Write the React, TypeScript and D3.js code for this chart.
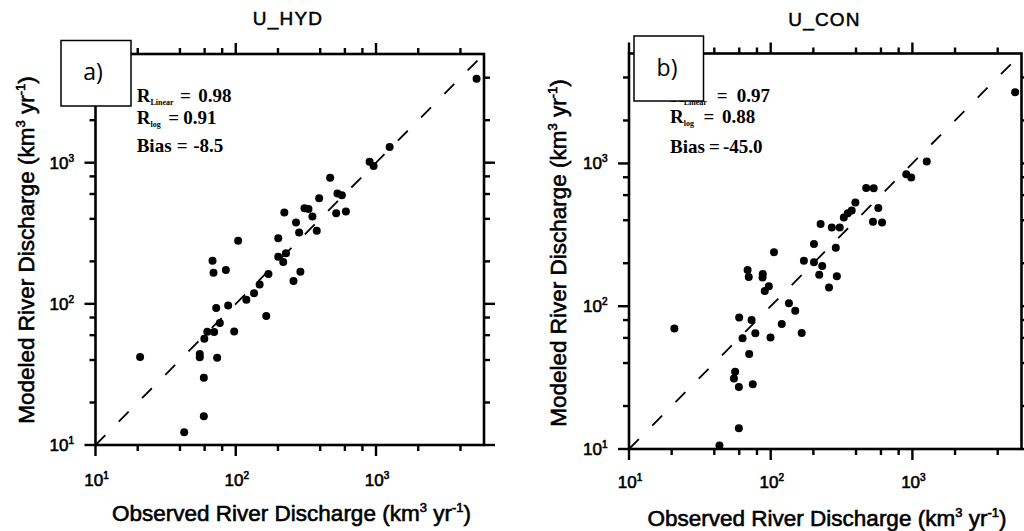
import React from 'react';
import * as d3 from 'd3';

// ---------- data ----------
const DOMAIN: [number, number] = [10, 5888];
const MAJOR_TICKS = [10, 100, 1000];
const MAJOR_EXPONENTS = ['1', '2', '3'];
const MINOR_MULTIPLIERS = [2, 4, 6, 8];

const TITLES = ['U_HYD', 'U_CON'];
const PANEL_LETTERS = ['a)', 'b)'];
const X_TITLE = 'Observed River Discharge (km';
const Y_TITLE = 'Modeled River Discharge (km';

// U_HYD: observed vs modeled discharge (km3/yr)
const HYD_OBS = [222, 269, 283, 104, 201, 68.3, 201, 228, 218, 69.4, 85, 289, 171, 258, 148, 135, 119, 88.3, 72.5, 165, 77, 62.7, 70.1, 97.5, 59.7, 55.4, 55.4, 73.7, 20.8, 59.2, 59.2, 42.9, 5212, 1250, 900, 961, 471, 531, 571, 393, 520, 610, 309, 330, 352, 378];
const HYD_MOD = [443, 377, 320, 280, 291, 202, 216, 228, 198, 166, 174, 169, 163, 145, 137, 119, 107, 97.3, 93.6, 82, 73.2, 63.5, 63.3, 63.6, 56.5, 44.2, 41.8, 41.5, 42.0, 30.0, 16.0, 12.3, 3940, 1290, 1016, 947, 783, 604, 588, 560, 439, 451, 476, 469, 416, 329];

// U_CON: observed vs modeled discharge (km3/yr)
const CON_OBS = [225, 270, 307, 202, 288, 105.5, 171.5, 202, 231, 220, 293, 258, 68.7, 70.0, 87.9, 87.6, 97, 90.8, 134.5, 149, 59.9, 73.3, 119.7, 165.5, 77.9, 63.3, 99.7, 20.9, 70.5, 56.1, 55.0, 59.6, 74.7, 59.6, 43.5, 5309, 1263, 905, 981, 472, 533, 396, 328, 350, 373, 575, 527, 611];
const CON_MOD = [376, 356, 356, 273, 257, 239, 208, 203, 191, 166, 162, 135, 179, 160, 168, 159, 138, 128, 105, 92.9, 83.4, 80.0, 75.1, 65, 64.6, 59.6, 60.4, 69.8, 46.3, 34.7, 31.2, 27.2, 28.4, 14.0, 10.6, 3158, 1033, 841, 798, 674, 670, 533, 418, 447, 469, 488, 391, 386];

const HYD_STAT_LABELS = ['R', 'R', 'Bias'];
const HYD_STAT_SUBS = ['Linear', 'log', ''];
const HYD_STAT_VALUES = ['0.98', '0.91', '-8.5'];
const CON_STAT_LABELS = ['R', 'R', 'Bias'];
const CON_STAT_SUBS = ['Linear', 'log', ''];
const CON_STAT_VALUES = ['0.97', '0.88', '-45.0'];

// ---------- styling ----------
const SANS = '"Liberation Sans", Arial, Helvetica, sans-serif';
const SERIF = '"Liberation Serif", "Times New Roman", serif';
const LETTER_FONT = '"Open Sans", "Liberation Sans", sans-serif';

type Layout = {
  left: number; right: number; top: number; bottom: number;
  box: [number, number, number, number];
  letterPos: [number, number];
  titlePos: [number, number];
  yTitleX: number; yTitleY: number;
  xTitleX: number; xTitleY: number;
  statX: number;
  statEqX: number[];
  statValX: number[];
  statY: number[];
  xLabelDy: number;
};

const LAYOUTS: Layout[] = [
  {
    left: 95.5, right: 484, top: 54, bottom: 445,
    box: [61, 40.5, 70, 65.5],
    letterPos: [93, 80],
    titlePos: [288, 25],
    yTitleX: 33.5, yTitleY: 250,
    xTitleX: 291.5, xTitleY: 521,
    statX: 136.7,
    statEqX: [180, 168.3, 176.7],
    statValX: [198.3, 183.3, 193.3],
    statY: [101.5, 123.5, 152],
    xLabelDy: 41,
  },
  {
    left: 629, right: 1021.5, top: 53.5, bottom: 449,
    box: [634, 36, 69.5, 65],
    letterPos: [667, 76],
    titlePos: [824.5, 25.5],
    yTitleX: 565.5, yTitleY: 253,
    xTitleX: 827, xTitleY: 526,
    statX: 670,
    statEqX: [716.7, 703.5, 709],
    statValX: [736.7, 722, 723],
    statY: [101.5, 123, 153],
    xLabelDy: 39,
  },
];

const MINOR_TICKS = MAJOR_TICKS.flatMap((m) => MINOR_MULTIPLIERS.map((k) => m * k)).filter(
  (v) => v <= DOMAIN[1]
);

function Panel({
  idx, obs, mod, labels, subs, values,
}: {
  idx: number; obs: number[]; mod: number[]; labels: string[]; subs: string[]; values: string[];
}) {
  const L = LAYOUTS[idx];
  const x = d3.scaleLog().domain(DOMAIN).range([L.left, L.right]);
  const y = d3.scaleLog().domain(DOMAIN).range([L.bottom, L.top]);
  const MAJ = 11;
  const MIN = 6;

  const diag = d3.line<number>().x((v) => x(v)).y((v) => y(v))(DOMAIN as number[]) || '';

  const tickRects = (vals: number[], len: number, key: string) =>
    vals.flatMap((t) => {
      const xv = x(t);
      const yv = y(t);
      const w = 2.4;
      return [
        <rect key={key + 'b' + t} x={xv - w / 2} y={L.bottom} width={w} height={len} fill="#000" />,
        <rect key={key + 't' + t} x={xv - w / 2} y={L.top - len} width={w} height={len} fill="#000" />,
        <rect key={key + 'l' + t} x={L.left - len} y={yv - w / 2} width={len} height={w} fill="#000" />,
        <rect key={key + 'r' + t} x={L.right} y={yv - w / 2} width={len} height={w} fill="#000" />,
      ];
    });

  const supTitle = (main: string) => (
    <>
      {main}<tspan fontSize={13} dy={-9}>3</tspan><tspan dy={9}> yr</tspan>
      <tspan fontSize={13} dy={-9}>-1</tspan><tspan dy={9}>)</tspan>
    </>
  );

  return (
    <g>
      {/* title */}
      <text x={L.titlePos[0]} y={L.titlePos[1]} textAnchor="middle" fontFamily={SANS} fontSize={19}
        letterSpacing={1.2} stroke="#000" strokeWidth={0.5}>{TITLES[idx]}</text>

      {/* dashed 1:1 line */}
      <path d={diag} stroke="#000" strokeWidth={1.8} strokeDasharray="14 19" fill="none" />

      {/* points */}
      {obs.map((o, i) => (
        <circle key={i} cx={x(o)} cy={y(mod[i])} r={4} fill="#000" />
      ))}

      {/* frame */}
      <rect x={L.left} y={L.top} width={L.right - L.left} height={L.bottom - L.top}
        fill="none" stroke="#000" strokeWidth={2.6} />

      {/* ticks */}
      {tickRects(MAJOR_TICKS, MAJ, 'M')}
      {tickRects(MINOR_TICKS, MIN, 'm')}

      {/* tick labels */}
      {MAJOR_TICKS.map((t, i) => (
        <g key={'l' + t} fontFamily={SANS} fontSize={17} stroke="#000" strokeWidth={0.6}>
          <text x={x(t) + 1} y={L.bottom + L.xLabelDy} textAnchor="middle">
            10<tspan fontSize={10} dy={-7}>{MAJOR_EXPONENTS[i]}</tspan>
          </text>
          <text x={L.left - 21.5} y={y(t) + 6} textAnchor="end">
            10<tspan fontSize={10} dy={-7}>{MAJOR_EXPONENTS[i]}</tspan>
          </text>
        </g>
      ))}

      {/* axis titles */}
      <text x={L.xTitleX} y={L.xTitleY} textAnchor="middle" fontFamily={SANS} fontSize={22.5}
        stroke="#000" strokeWidth={0.6}>
        {supTitle(X_TITLE)}
      </text>
      <text transform={`translate(${L.yTitleX},${L.yTitleY}) rotate(-90)`} textAnchor="middle"
        fontFamily={SANS} fontSize={22.5} stroke="#000" strokeWidth={0.6}>
        {supTitle(Y_TITLE)}
      </text>

      {/* statistics */}
      {labels.map((lab, i) => (
        <g key={'s' + i} fontFamily={SERIF} fontWeight="bold" fontSize={19}>
          <text x={L.statX} y={L.statY[i]}>
            {lab}
            {subs[i] && <tspan fontSize={8} dy={3}>{subs[i]}</tspan>}
          </text>
          <text x={L.statEqX[i]} y={L.statY[i]}>=</text>
          <text x={L.statValX[i]} y={L.statY[i]}>{values[i]}</text>
        </g>
      ))}

      {/* panel letter box */}
      <rect x={L.box[0]} y={L.box[1]} width={L.box[2]} height={L.box[3]} fill="#fff" stroke="#000" strokeWidth={1.5} />
      <text x={L.letterPos[0]} y={L.letterPos[1]} textAnchor="middle" fontFamily={LETTER_FONT} fontSize={23}>
        {PANEL_LETTERS[idx]}
      </text>
    </g>
  );
}

export default function App() {
  return (
    <svg width={1024} height={531} style={{ position: 'absolute', left: 0, top: 0, background: '#fff' }}>
      <rect x={0} y={0} width={1024} height={531} fill="#fff" />
      <Panel idx={0} obs={HYD_OBS} mod={HYD_MOD} labels={HYD_STAT_LABELS} subs={HYD_STAT_SUBS} values={HYD_STAT_VALUES} />
      <Panel idx={1} obs={CON_OBS} mod={CON_MOD} labels={CON_STAT_LABELS} subs={CON_STAT_SUBS} values={CON_STAT_VALUES} />
    </svg>
  );
}
